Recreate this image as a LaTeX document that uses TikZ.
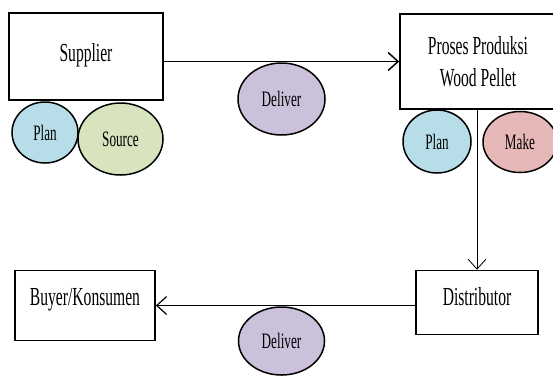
\documentclass[tikz,border=0pt]{standalone}
\usepackage{fontspec}
\setmainfont{Liberation Serif}[FakeStretch=0.6]
\usepackage{xcolor}
\usepackage{tikz}
\usetikzlibrary{positioning, arrows.meta, shapes.geometric}

\definecolor{planblue}{HTML}{B7DDE8}
\definecolor{sourcegreen}{HTML}{D7E4BD}
\definecolor{deliverpurple}{HTML}{CCC1DA}
\definecolor{makepink}{HTML}{E6B9B8}

\begin{document}
\begin{tikzpicture}[
    x=1pt, y=-1pt,
    box/.style={rectangle, draw, line width=1.6pt, inner sep=0pt, text height=16pt,
                font=\fontsize{26}{32}\selectfont},
    proc/.style={ellipse, draw, line width=1.5pt, inner sep=0pt,
                 font=\fontsize{22}{24}\selectfont},
    flow/.style={-{Straight Barb[length=10pt,width=18pt]}}
]
\useasboundingbox (0,0) rectangle (553,376);
\clip (0,0) rectangle (553,376);

\node[box, minimum width=154pt, minimum height=87pt, text depth=6pt] (supplier) at (86,56.5) {Supplier};
\node[box, minimum width=156pt, minimum height=95pt, align=center, text height=, text depth=] (produksi) at (478,61.5) {Proses Produksi\\Wood Pellet};
\node[box, minimum width=122pt, minimum height=64pt, text depth=10pt] (distributor) at (477,302.5) {Distributor};
\node[box, minimum width=140pt, minimum height=70pt, text depth=16pt] (buyer) at (85,305.5) {Buyer/Konsumen};

\node[proc, fill=planblue, minimum width=66pt, minimum height=61pt] (plan1) at (45,132.5) {Plan};
\node[proc, fill=sourcegreen, minimum width=85pt, minimum height=72pt] (source) at (120.5,139) {Source};
\node[proc, fill=deliverpurple, minimum width=87pt, minimum height=72pt] (deliver1) at (281.5,99) {Deliver};
\node[proc, fill=planblue, minimum width=68pt, minimum height=63pt] (plan2) at (437,141.5) {Plan};
\node[proc, fill=makepink, minimum width=74pt, minimum height=61pt] (make) at (520,142) {Make};
\node[proc, fill=deliverpurple, minimum width=86pt, minimum height=68pt] (deliver2) at (281.5,341) {Deliver};

% alur antar pelaku
\draw[flow, line width=1.5pt] (supplier.east |- produksi.west) -- (produksi.west);
\draw[flow, line width=0.8pt] (distributor.north |- produksi.south) -- (distributor.north);
\draw[flow, line width=1.2pt] (buyer.east -| distributor.west) -- (buyer.east);
\end{tikzpicture}
\end{document}
